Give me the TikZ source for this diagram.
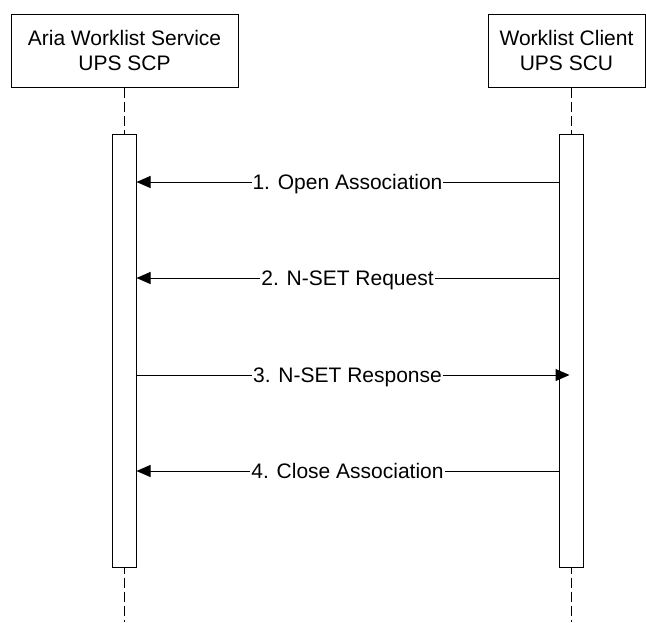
\documentclass[tikz,border=0pt]{standalone}
\usepackage{fontspec}
\setmainfont{Liberation Sans}
\usetikzlibrary{positioning}
\usetikzlibrary{calc}
\usetikzlibrary{arrows.meta}

\begin{document}
\begin{tikzpicture}[x=1pt, y=-1pt, line width=1pt, font=\fontsize{21}{25}\selectfont]
        \useasboundingbox (0,0) rectangle (646,622);
        \tikzset{
            lifebox/.style={draw, minimum height=73pt, align=center, inner sep=0pt},
            lifebar/.style={draw, fill=white, minimum width=24pt, minimum height=433pt, inner sep=0pt},
            lifeline/.style={dash pattern=on 10pt off 4pt},
            msg/.style={-{Triangle[length=14pt, width=12pt]}},
            lbl/.style={fill=white, inner sep=1pt, anchor=base, yshift=-7.5pt}
        }
        \node[lifebox, minimum width=227pt] (scp) at (124.5,50.5) {Aria Worklist Service\\UPS SCP};
        \node[lifebox, minimum width=157pt] (scu) at (566.5,50.5) {Worklist Client\\UPS SCU};

        \coordinate (scpEnd) at (124,622);
        \coordinate (scuEnd) at (571,622);
        \draw[lifeline] (scp.south -| scpEnd) -- (scpEnd);
        \draw[lifeline] (scu.south -| scuEnd) -- (scuEnd);

        \node[lifebar] (scpBar) at (124,350.5) {};
        \node[lifebar] (scuBar) at (571,350.5) {};

        \draw[msg] (scuBar.west |- 0,182) -- node[lbl] {1. Open Association} (scpBar.east |- 0,182);
        \draw[msg] (scuBar.west |- 0,278) -- node[lbl] {2. N-SET Request} (scpBar.east |- 0,278);
        \coordinate (rspEnd) at ($(scuBar.west |- 0,375)+(11,0)$);
        \draw[msg] (scpBar.east |- 0,375) -- node[lbl, xshift=-5.5pt] {3. N-SET Response} (rspEnd);
        \draw[msg] (scuBar.west |- 0,471) -- node[lbl] {4. Close Association} (scpBar.east |- 0,471);
    \end{tikzpicture}
\end{document}
